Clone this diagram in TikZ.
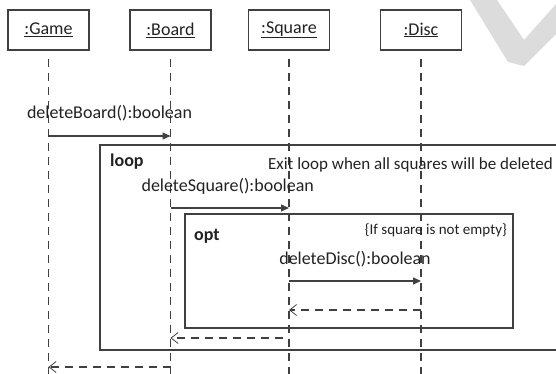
\documentclass[tikz,border=0pt]{standalone}
\usepackage{fontspec}
\setmainfont{Carlito}
\usetikzlibrary{arrows.meta,calc}
\definecolor{ink}{HTML}{222222}
\definecolor{rulegray}{HTML}{404040}
\definecolor{cornergray}{HTML}{DCDCDC}
\begin{document}
\begin{tikzpicture}[x=1pt,y=-1pt,
  objbox/.style={draw=rulegray,line width=1.1pt,minimum width=81pt,minimum height=40pt,
    inner sep=0pt,font=\fontsize{18}{20}\selectfont,text=ink},
  lifeline/.style={draw=rulegray,line width=1.1pt,dash pattern=on 8pt off 6pt},
  callmsg/.style={draw=rulegray,line width=1.1pt,-{Triangle[length=8pt,width=7pt]}},
  retmsg/.style={draw=rulegray,line width=1.1pt,dash pattern=on 8pt off 6pt,
    -{Straight Barb[length=7pt,width=11pt,line width=0.8pt]}},
  msglabel/.style={font=\fontsize{18}{20}\selectfont,text=ink,inner sep=0pt,anchor=base},
  fragframe/.style={draw=rulegray,line width=1.2pt},
  frametag/.style={font=\bfseries\fontsize{18}{20}\selectfont,text=ink,inner sep=0pt,anchor=base west},
  guard/.style={text=ink,inner sep=0pt,anchor=base east}]
\useasboundingbox (0,0) rectangle (556,374);
\clip (0,0) rectangle (556,374);

% light grey shape in the upper right corner
\fill[cornergray] (470,0) -- (497,0) -- (524,40) -- (556,4) -- (556,34) -- (524,66) -- (508,62) -- cycle;

% participants
\node[objbox] (game)   at (48.5,30)  {\underline{:Game}};
\node[objbox] (board)  at (170.5,30) {\underline{:Board}};
\node[objbox] (square) at (289,30)   {\underline{:Square}};
\node[objbox] (disc)   at (421,30)   {\underline{:Disc}};

% lifeline ends
\coordinate (gameEnd)   at (game.south   |- 0,380);
\coordinate (boardEnd)  at (board.south  |- 0,380);
\coordinate (squareEnd) at (square.south |- 0,380);
\coordinate (discEnd)   at (disc.south   |- 0,380);
\path[lifeline] ([yshift=-8pt]game.south)   -- (gameEnd);
\path[lifeline] ([yshift=-8pt]board.south)  -- (boardEnd);
\path[lifeline] ([yshift=-8pt]square.south) -- (squareEnd);
\path[lifeline] ([yshift=-8pt]disc.south)   -- (discEnd);

% message anchor points on the lifelines
\coordinate (g1) at (game.south   |- 0,136);
\coordinate (b1) at (board.south  |- 0,136);
\coordinate (b2) at (board.south  |- 0,208);
\coordinate (s2) at (square.south |- 0,208);
\coordinate (s3) at (square.south |- 0,281);
\coordinate (d3) at (disc.south   |- 0,281);
\coordinate (d4) at (disc.south   |- 0,310);
\coordinate (s4) at (square.south |- 0,310);
\coordinate (s5) at ([xshift=-6pt]square.south |- 0,338);
\coordinate (b5) at (board.south  |- 0,338);
\coordinate (b6) at (board.south  |- 0,367);
\coordinate (g6) at (game.south   |- 0,367);

% combined fragments
\draw[fragframe] (100,145) rectangle (570,350);
\node[frametag] (looptag) at (110,167) {loop};
\node[guard,font=\fontsize{17}{19}\selectfont] (loopguard) at (553,169) {Exit loop when all squares will be deleted};
\draw[fragframe] (185,214) rectangle (513,328);
\node[frametag] (opttag) at (194,240) {opt};
\node[guard,font=\fontsize{15}{17}\selectfont] (optguard) at (507,234) {\{If square is not empty\}};

% messages
\draw[callmsg] (g1) -- (b1);
\node[msglabel] (m1) at ($(g1)!0.5!(b1)+(0,-17)$) {deleteBoard():boolean};
\draw[callmsg] (b2) -- (s2);
\node[msglabel] (m2) at ($(b2)!0.5!(s2)+(-2,-17)$) {deleteSquare():boolean};
\draw[callmsg] (s3) -- (d3);
\node[msglabel] (m3) at ($(s3)!0.5!(d3)+(0,-17)$) {deleteDisc():boolean};
\draw[retmsg] (d4) -- (s4);
\draw[retmsg] (s5) -- (b5);
\draw[retmsg] (b6) -- (g6);
\end{tikzpicture}
\end{document}
